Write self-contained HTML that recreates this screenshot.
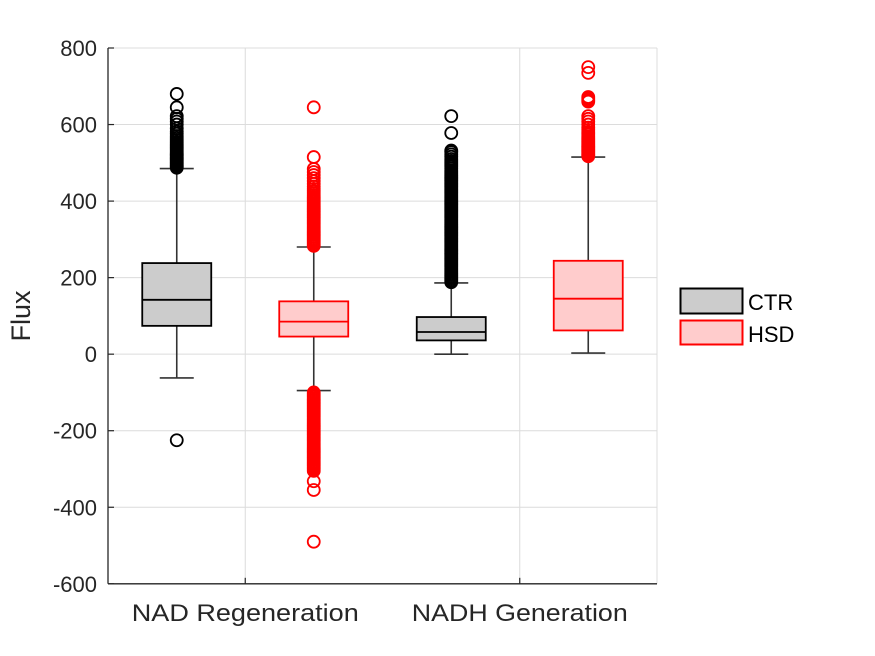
<!DOCTYPE html>
<html><head><meta charset="utf-8"><style>
html,body{margin:0;padding:0;background:#fff;}
svg{display:block;font-family:"Liberation Sans",Arial,sans-serif;}
</style></head><body>
<svg id="chart" width="875" height="656" viewBox="0 0 875 656">
<rect x="0" y="0" width="875" height="656" fill="#fff"/>
<g id="grid"></g>
<g id="plot"></g>
<g id="axes"></g>
<text x="30" y="316" font-size="27" fill="#262626" text-anchor="middle" transform="rotate(-90 30 316)">Flux</text>
<g>
  <rect x="680.5" y="288.5" width="62" height="25" fill="#cccccc" stroke="#000" stroke-width="2"/>
  <text x="748" y="310" font-size="22" fill="#000">CTR</text>
  <rect x="680.5" y="320.5" width="62" height="24" fill="#ffcccc" stroke="#ff0000" stroke-width="2"/>
  <text x="748" y="342" font-size="22" fill="#000">HSD</text>
</g>
</svg>
<script>
const categories = ["NAD Regeneration", "NADH Generation"];
const seriesNames = ["CTR", "HSD"];
const yTicks = [-600, -400, -200, 0, 200, 400, 600, 800];
// box stats per box: [lowerWhisker, q1, median, q3, upperWhisker]
const ctrStats = [[-62, 74, 142, 238, 485], [0, 36, 58, 97, 186]];
const hsdStats = [[-95, 46, 85, 138, 280], [3, 62, 145, 244, 515]];
const ctrOutliers1 = [-225,487,490,493,496,499,502,505,508,511,514,517,520,523,526,530,534,538,542,546,550,555,560,565,570,576,582,590,600,608,615,622,645,680];
const hsdOutliers1 = [-490,-355,-332,-305,-300,-296,-292,-288,-284,-280,-276,-272,-268,-264,-260,-256,-252,-248,-244,-240,-236,-232,-228,-224,-220,-216,-212,-208,-204,-200,-196,-192,-188,-184,-180,-176,-172,-168,-164,-160,-156,-152,-148,-144,-140,-136,-132,-128,-124,-120,-116,-112,-108,-104,-100,283,287,291,295,299,303,307,311,315,319,323,327,331,335,339,343,347,351,355,359,363,367,371,375,379,383,387,391,395,399,403,407,411,416,421,426,432,438,445,452,460,468,476,484,515,645];
const ctrOutliers2 = [188,192,196,200,204,208,212,216,220,224,228,232,236,240,244,248,252,256,260,264,268,272,276,280,284,288,292,296,300,304,308,312,316,320,324,328,332,336,340,344,348,352,356,360,364,368,372,376,380,384,388,392,396,400,404,408,412,416,420,424,428,432,436,440,444,448,452,456,460,464,468,472,476,480,485,490,495,500,505,510,516,522,528,532,578,622];
const hsdOutliers2 = [517,520,523,526,529,532,535,538,541,544,547,550,554,558,562,566,570,575,580,586,592,600,608,615,622,660,664,668,672,735,750];

const NS = "http://www.w3.org/2000/svg";
const X0 = 108, X1 = 657, Y0 = 48, Y1 = 583.8;
const yMin = -600, yMax = 800;
function yScale(v){ return Y1 - (v - yMin) / (yMax - yMin) * (Y1 - Y0); }
function catCenter(i){ return X0 + (i + 0.5) * (X1 - X0) / categories.length; }
function boxX(ci, si){ return catCenter(ci) + (si === 0 ? -68.5 : 68.5); }
function mk(tag, attrs, parent){ const e = document.createElementNS(NS, tag); for (const k in attrs) e.setAttribute(k, attrs[k]); parent.appendChild(e); return e; }

const grid = document.getElementById('grid');
const plot = document.getElementById('plot');
const axes = document.getElementById('axes');

yTicks.forEach(t => {
  const y = yScale(t);
  const g = mk('line', {x1:X0, x2:X1, y1:y, y2:y, stroke:'#dcdcdc', 'stroke-width':1}, grid);
  
  
  const tk = mk('line', {x1:X0, x2:X0+6, y1:y, y2:y, stroke:'#262626', 'stroke-width':1.2}, axes);
  
  
  const lb = mk('text', {x:97, y:y+8, 'font-size':22, fill:'#262626', 'text-anchor':'end'}, axes);
  lb.textContent = String(t);
  
  
});
categories.forEach((c, i) => {
  const x = catCenter(i);
  const g = mk('line', {x1:x, x2:x, y1:Y0, y2:Y1, stroke:'#dcdcdc', 'stroke-width':1}, grid);
  
  
  const tk = mk('line', {x1:x, x2:x, y1:Y1, y2:Y1-6, stroke:'#262626', 'stroke-width':1.2}, axes);
  
  
  const lb = mk('text', {x:x, y:621, 'font-size':24, fill:'#262626', 'text-anchor':'middle', textLength:(i===0?227:216), lengthAdjust:'spacingAndGlyphs'}, axes);
  lb.textContent = c;
  
  
});
const rg = mk('line', {x1:X1, x2:X1, y1:Y0, y2:Y1, stroke:'#dcdcdc'}, grid);


const ax = mk('line', {x1:X0, x2:X0, y1:Y0, y2:Y1, stroke:'#262626', 'stroke-width':1.3}, axes);


const axx = mk('line', {x1:X0, x2:X1, y1:Y1, y2:Y1, stroke:'#262626', 'stroke-width':1.3}, axes);



function drawBox(ci, si, st, outs){
  const cx = boxX(ci, si);
  const edge = si === 0 ? '#000' : '#ff0000';
  const fill = si === 0 ? '#cccccc' : '#ffcccc';
  const g = mk('g', {}, plot);
  
  
  const w1 = mk('line', {x1:cx, x2:cx, y1:yScale(st[4]), y2:yScale(st[3]), stroke:'#333', 'stroke-width':1.6}, g);
  
  
  const w2 = mk('line', {x1:cx, x2:cx, y1:yScale(st[1]), y2:yScale(st[0]), stroke:'#333', 'stroke-width':1.6}, g);
  
  
  [st[0], st[4]].forEach(v => {
    const c = mk('line', {x1:cx-17, x2:cx+17, y1:yScale(v), y2:yScale(v), stroke:'#333', 'stroke-width':1.6}, g);
    
    
  });
  const b = mk('rect', {x:cx-34.5, y:yScale(st[3]), width:69, height:yScale(st[1])-yScale(st[3]), fill:fill, stroke:edge, 'stroke-width':1.8}, g);
  
  
  const m = mk('line', {x1:cx-34.5, x2:cx+34.5, y1:yScale(st[2]), y2:yScale(st[2]), stroke:edge, 'stroke-width':1.8}, g);
  
  
  outs.forEach(v => {
    const o = mk('circle', {cx:cx, cy:yScale(v), r:6, fill:'none', stroke:edge, 'stroke-width':1.8}, g);
    
    
  });
}
drawBox(0, 0, ctrStats[0], ctrOutliers1);
drawBox(0, 1, hsdStats[0], hsdOutliers1);
drawBox(1, 0, ctrStats[1], ctrOutliers2);
drawBox(1, 1, hsdStats[1], hsdOutliers2);
</script>
</body></html>
